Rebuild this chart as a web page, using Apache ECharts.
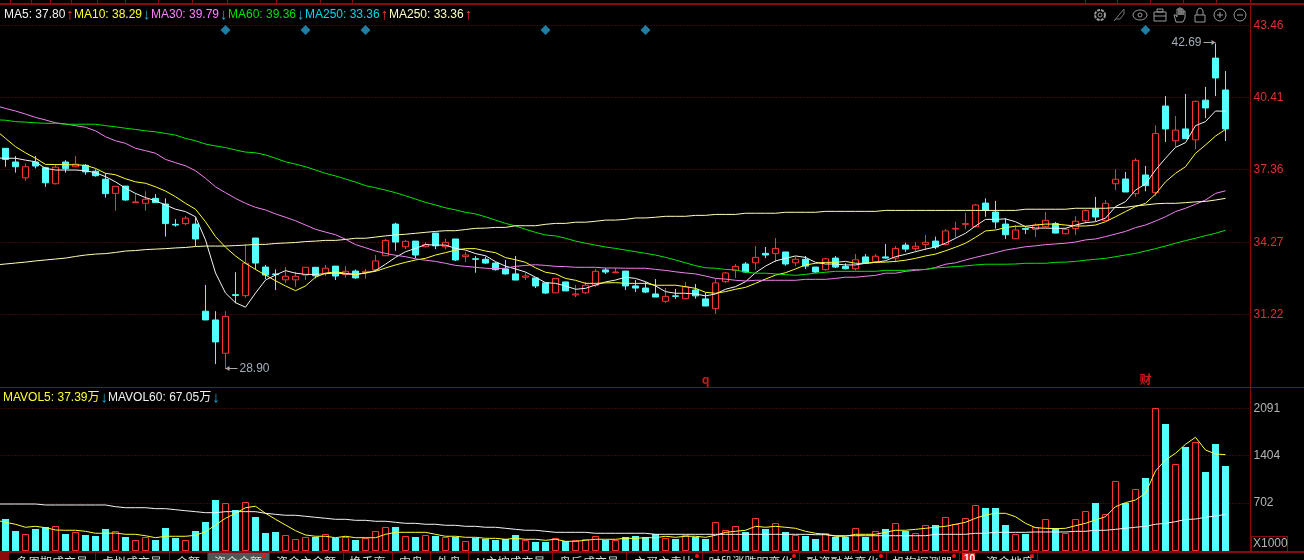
<!DOCTYPE html>
<html>
<head>
<meta charset="utf-8">
<style>
  html, body { margin: 0; padding: 0; background: #000; overflow: hidden; }
  #kline { width: 1304px; height: 560px; }
</style>
<script src="https://cdn.jsdelivr.net/npm/echarts@6/dist/echarts.min.js"></script>
</head>
<body>
<div id="kline"></div>
<script>
// open, close, low, high
var candles = [
  [38.25,37.78,37.47,38.26],[37.67,37.47,37.22,37.92],[37.00,37.47,36.88,37.61],[37.67,37.50,37.40,37.92],[37.43,36.79,36.62,37.47],
  [36.75,37.45,36.72,37.57],[37.67,37.39,37.22,37.75],[37.47,37.58,37.45,37.92],[37.53,37.25,37.13,37.58],[37.28,37.09,37.05,37.36],
  [36.94,36.33,36.16,37.19],[36.34,36.64,35.61,36.64],[36.65,36.06,36.03,36.65],[35.95,35.98,35.95,36.34],[35.92,36.09,35.61,36.43],
  [36.13,35.95,35.95,36.31],[35.89,35.06,34.51,36.13],[35.03,35.00,34.93,35.25],[35.06,35.29,35.00,35.38],[35.04,34.41,34.11,35.33],
  [31.35,30.98,30.98,32.46],[30.98,30.05,29.11,31.35],[29.57,31.13,28.90,31.35],[32.05,32.02,31.69,33.00],[32.01,33.38,31.92,34.18],
  [34.45,33.39,33.12,34.45],[33.22,32.88,32.71,33.31],[32.93,32.90,32.25,33.12],[32.68,32.83,32.55,33.22],[32.68,32.83,32.39,33.02],
  [32.88,33.21,32.67,33.21],[33.21,32.85,32.74,33.21],[32.96,33.17,32.84,33.31],[33.26,32.84,32.67,33.26],[32.90,33.04,32.77,33.26],
  [33.05,32.76,32.73,33.12],[32.98,33.04,32.73,33.14],[33.11,33.48,33.02,33.73],[33.70,34.35,33.69,34.41],[35.04,34.28,33.91,35.10],
  [34.08,34.31,33.98,34.37],[34.32,33.73,33.60,34.32],[34.08,34.17,34.06,34.28],[34.66,34.12,33.98,34.66],[34.08,34.27,33.97,34.41],
  [34.41,33.52,33.48,34.41],[33.66,33.73,33.43,33.87],[33.57,33.55,32.98,33.69],[33.55,33.39,33.36,33.66],[33.39,33.11,33.07,33.43],
  [33.14,32.93,32.90,33.52],[32.93,32.67,32.67,33.69],[32.79,32.84,32.67,32.98],[32.76,32.42,32.33,32.76],[32.55,32.12,32.08,32.55],
  [32.13,32.74,32.13,32.74],[32.59,32.21,32.21,32.59],[32.04,32.08,31.95,32.46],[32.13,32.45,32.08,32.59],[32.45,33.04,32.38,33.14],
  [33.10,33.01,32.93,33.18],[32.98,33.01,32.97,33.18],[33.05,32.42,32.25,33.05],[32.42,32.33,32.16,32.67],[32.33,32.16,32.12,32.59],
  [32.08,31.95,31.95,32.71],[31.77,31.98,31.70,32.33],[32.00,31.98,31.87,32.29],[31.88,32.38,31.85,32.59],[32.25,32.00,31.88,32.50],
  [31.87,31.57,31.57,32.12],[31.46,32.55,31.23,32.71],[32.60,32.97,32.55,33.01],[33.07,33.25,32.76,33.35],[33.35,33.01,32.98,33.43],
  [33.40,33.63,33.10,34.11],[33.80,33.73,33.60,34.07],[33.79,34.01,33.43,34.45],[33.86,33.35,33.28,33.86],[33.40,33.55,33.26,33.66],
  [33.55,33.26,33.14,33.69],[33.22,33.01,32.97,33.22],[33.11,33.57,33.07,33.60],[33.60,33.22,33.18,33.69],[33.25,33.15,33.12,33.38],
  [33.15,33.53,33.07,33.77],[33.65,33.39,33.35,33.77],[33.45,33.68,33.39,33.77],[33.65,33.60,33.57,34.20],[33.60,34.01,33.42,34.11],
  [34.15,33.98,33.86,34.25],[34.00,34.10,33.90,34.28],[34.18,34.27,33.94,34.58],[34.32,34.07,33.98,34.51],[34.18,34.75,34.14,34.83],
  [34.83,34.86,34.48,35.14],[35.03,35.06,34.82,35.52],[34.93,35.85,34.90,35.89],[35.93,35.62,35.35,36.13],[35.55,35.13,34.85,36.02],
  [35.04,34.59,34.41,35.29],[34.42,34.79,34.40,35.00],[34.85,34.82,34.62,34.90],[34.82,35.00,34.49,35.07],[34.93,35.20,34.90,35.55],
  [35.06,34.66,34.65,35.13],[34.63,34.82,34.61,34.89],[34.85,35.16,34.58,35.37],[35.18,35.62,35.07,35.67],[35.68,35.34,35.17,36.19],
  [35.20,35.92,35.17,36.06],[36.75,36.94,36.48,37.36],[36.95,36.40,36.40,37.25],[36.33,37.74,36.20,37.83],[37.12,36.67,36.43,37.50],
  [36.37,38.88,36.24,39.22],[40.04,39.07,38.52,40.46],[38.57,39.02,38.32,39.62],[39.07,38.66,38.66,40.55],[38.61,40.24,38.22,40.27],
  [40.29,39.96,39.53,40.85],[42.07,41.23,40.46,42.69],[40.72,39.07,38.56,41.52]
];

// averages: the first value of each belongs to the bar just off the left edge
var ma5 = [
  37.84,
  37.83,37.83,37.75,37.68,37.40,37.33,37.33,37.33,37.30,37.22,
  37.05,36.83,36.56,36.34,36.16,36.03,35.85,35.67,35.57,35.35,
  34.37,32.97,32.12,31.71,31.52,32.12,32.67,32.88,33.07,32.96,
  32.91,32.91,32.94,32.97,32.93,32.91,32.96,33.07,33.34,33.63,
  33.87,34.01,34.17,34.15,34.15,34.01,33.94,33.79,33.70,33.45,
  33.26,33.14,33.01,32.79,32.56,32.53,32.42,32.28,32.32,32.46,
  32.59,32.67,32.79,32.74,32.60,32.42,32.18,32.11,32.11,32.08,
  32.00,32.08,32.28,32.39,32.60,32.98,33.26,33.48,33.59,33.69,
  33.63,33.42,33.35,33.35,33.31,33.31,33.38,33.42,33.49,33.66,
  33.76,33.87,33.98,34.07,34.23,34.44,34.65,34.96,35.24,35.24,
  35.26,35.14,34.93,34.87,34.87,34.86,34.86,35.00,35.10,35.14,
  35.29,35.78,35.99,36.48,36.74,37.33,37.83,38.29,38.49,39.21,
  39.38,39.83,39.82
];
var ma10 = [
  39.03,
  38.67,38.32,38.06,37.83,37.57,37.56,37.56,37.55,37.53,37.40,
  37.19,37.13,36.96,36.83,36.77,36.62,36.44,36.20,35.92,35.67,
  35.14,34.51,34.06,33.69,33.38,33.12,32.88,32.64,32.42,32.22,
  32.42,32.79,32.96,33.02,32.96,32.90,32.98,33.04,33.18,33.31,
  33.42,33.52,33.59,33.73,33.83,33.94,34.00,34.00,33.90,33.83,
  33.62,33.53,33.42,33.19,33.00,32.93,32.74,32.66,32.53,32.53,
  32.55,32.56,32.53,32.53,32.53,32.45,32.45,32.45,32.39,32.32,
  32.15,32.11,32.18,32.28,32.36,32.53,32.71,32.88,32.98,33.14,
  33.31,33.38,33.42,33.42,33.46,33.38,33.38,33.42,33.43,33.46,
  33.51,33.59,33.69,33.77,33.91,34.06,34.23,34.48,34.75,34.79,
  34.89,34.95,34.95,35.00,35.04,35.04,35.00,34.96,34.96,35.00,
  35.14,35.35,35.57,35.78,35.92,36.31,36.83,37.19,37.47,38.04,
  38.39,38.77,39.05
];
var ma30 = [
  40.06,
  39.94,39.83,39.70,39.56,39.45,39.33,39.28,39.21,39.14,38.99,
  38.74,38.57,38.46,38.25,38.15,38.04,37.78,37.64,37.51,37.30,
  36.98,36.62,36.37,36.13,35.92,35.75,35.64,35.47,35.33,35.18,
  35.00,34.82,34.70,34.59,34.40,34.17,34.04,33.90,33.80,33.72,
  33.66,33.57,33.51,33.46,33.38,33.29,33.25,33.21,33.17,33.15,
  33.17,33.25,33.29,33.32,33.29,33.25,33.24,33.21,33.21,33.21,
  33.18,33.18,33.17,33.17,33.17,33.12,33.08,33.02,32.97,32.93,
  32.84,32.74,32.71,32.66,32.63,32.66,32.66,32.66,32.66,32.66,
  32.70,32.70,32.70,32.74,32.79,32.79,32.83,32.87,32.96,32.96,
  33.04,33.08,33.12,33.20,33.34,33.40,33.52,33.63,33.73,33.83,
  33.94,34.01,34.08,34.12,34.17,34.20,34.23,34.28,34.37,34.41,
  34.51,34.62,34.73,34.89,35.00,35.17,35.35,35.57,35.71,35.88,
  36.06,36.34,36.45
];
var ma60 = [
  39.46,
  39.44,39.38,39.36,39.33,39.31,39.31,39.27,39.27,39.27,39.27,
  39.21,39.16,39.10,39.05,38.99,38.95,38.88,38.81,38.67,38.57,
  38.43,38.35,38.28,38.18,38.09,38.06,37.97,37.83,37.68,37.58,
  37.47,37.33,37.19,37.08,36.95,36.82,36.67,36.58,36.48,36.37,
  36.24,36.10,35.96,35.85,35.73,35.64,35.54,35.47,35.35,35.21,
  35.07,34.96,34.82,34.69,34.58,34.54,34.44,34.32,34.23,34.15,
  34.07,34.01,33.94,33.87,33.80,33.73,33.63,33.52,33.40,33.28,
  33.19,33.17,33.12,33.10,33.01,32.96,32.96,32.93,32.90,32.87,
  32.91,32.96,33.00,33.04,33.04,33.04,33.04,33.04,33.08,33.08,
  33.08,33.12,33.12,33.18,33.21,33.24,33.27,33.31,33.34,33.34,
  33.34,33.35,33.38,33.38,33.38,33.42,33.43,33.46,33.51,33.55,
  33.59,33.66,33.73,33.80,33.90,34.00,34.11,34.23,34.34,34.44,
  34.55,34.65,34.78
];
var ma250 = [
  33.31,
  33.35,33.39,33.43,33.48,33.52,33.56,33.60,33.67,33.73,33.77,
  33.79,33.84,33.90,33.92,33.96,33.98,34.00,34.03,34.05,34.09,
  34.11,34.11,34.11,34.13,34.15,34.18,34.18,34.22,34.24,34.26,
  34.30,34.32,34.35,34.35,34.39,34.44,34.44,34.49,34.54,34.58,
  34.61,34.65,34.69,34.73,34.76,34.76,34.81,34.86,34.87,34.90,
  34.90,34.97,34.97,34.97,35.03,35.07,35.07,35.12,35.12,35.16,
  35.21,35.21,35.24,35.30,35.30,35.33,35.37,35.37,35.37,35.41,
  35.41,35.45,35.45,35.45,35.50,35.50,35.50,35.50,35.54,35.54,
  35.54,35.54,35.58,35.58,35.58,35.58,35.58,35.58,35.62,35.62,
  35.62,35.62,35.62,35.62,35.62,35.62,35.62,35.62,35.62,35.62,
  35.62,35.62,35.67,35.67,35.67,35.67,35.67,35.71,35.71,35.71,
  35.71,35.74,35.75,35.81,35.85,35.90,35.92,35.92,35.95,35.98,
  36.00,36.06,36.13
];

var volumes = [
  469,293,245,323,348,362,249,274,235,220,
  323,289,205,157,201,161,337,191,157,293,
  425,748,700,597,714,499,264,279,230,172,
  201,210,245,195,201,161,195,289,348,352,
  216,205,230,220,205,205,142,195,176,161,
  172,235,157,132,132,186,142,157,172,216,
  166,161,201,220,205,245,186,176,235,210,
  176,421,304,362,279,480,323,406,279,230,
  220,176,260,205,205,333,205,289,323,406,
  293,260,377,381,494,392,480,670,631,631,
  381,245,249,356,465,333,260,465,582,704,
  538,1023,709,905,1071,2091,1863,1272,1526,1599,
  1159,1570,1247
];
var mavol5 = [
  455,
  421,392,348,362,342,308,304,304,289,260,
  260,264,245,245,224,195,216,216,216,230,
  283,381,480,553,635,656,553,465,381,298,
  235,216,216,195,216,195,195,195,245,274,
  274,274,274,245,216,216,201,201,186,186,
  172,186,172,172,157,172,142,142,157,172,
  172,172,186,186,195,195,216,201,216,216,
  201,230,274,289,304,362,348,362,348,333,
  289,260,245,216,216,245,245,245,274,304,
  304,318,333,348,362,392,421,480,528,553,
  553,503,406,342,333,327,333,371,406,455,
  503,650,709,748,846,1174,1335,1433,1565,1668,
  1482,1423,1413
];
var mavol60 = [
  689,
  689,689,689,689,675,675,675,675,675,675,
  675,650,635,635,635,621,621,606,591,577,
  562,562,577,577,577,577,553,538,524,524,
  509,494,480,465,465,450,450,436,436,421,
  406,406,392,392,377,377,362,362,348,348,
  333,318,304,304,289,274,274,274,274,260,
  260,260,260,260,260,245,245,245,245,245,
  245,245,245,245,245,245,245,245,245,245,
  245,239,239,224,224,224,224,224,224,224,
  224,224,224,245,245,245,245,260,260,274,
  274,274,274,279,279,279,279,289,289,304,
  304,318,333,348,362,392,406,430,462,469,
  494,513,538
];

var priceTicks = [31.22, 34.27, 37.36, 40.41, 43.46];
var volumeTicks = [702, 1404, 2091];

// candle index of the blue diamonds along the top
var markerIndex = [22, 30, 36, 54, 64, 114];
var markerPrice = 43.26;
// [index, price, text] small red flags under the candles
var flags = [[70, 28.44, 'q'], [114, 28.44, '财']];
// [index, price, side] high / low callouts
var callouts = [[121, 42.69, -1], [22, 28.90, 1]];

var maLegend = [
  { x: 4, text: 'MA5: 37.80', arrow: '↑', color: '#f2f2f2' },
  { x: 74, text: 'MA10: 38.29', arrow: '↓', color: '#ffff33' },
  { x: 151, text: 'MA30: 39.79', arrow: '↓', color: '#ff80ff' },
  { x: 228, text: 'MA60: 39.36', arrow: '↓', color: '#00e000' },
  { x: 305, text: 'MA250: 33.36', arrow: '↑', color: '#00d8e8' },
  { x: 389, text: 'MA250: 33.36', arrow: '↑', color: '#ffffc0' }
];
var volLegend = [
  { x: 3, text: 'MAVOL5: 37.39万', arrow: '↓', color: '#ffff33' },
  { x: 108, text: 'MAVOL60: 67.05万', arrow: '↓', color: '#f2f2f2' }
];

// [left, right, text, has red dot]
var tabs = [
  [9, 95, '多周期成交量', 0], [95, 169, '虚拟成交量', 0], [169, 207, '金额', 0], [207, 269, '资金金额', 1],
  [269, 343, '资金主金额', 0], [343, 392, '换手率', 0], [392, 430, '内盘', 0], [430, 468, '外盘', 0],
  [468, 552, 'AI主控成交量', 0], [552, 626, '盘后成交量', 0], [626, 702, '主买主卖比', 1], [702, 799, '时段涨跌明变化', 1],
  [799, 886, '融资融券变化', 1], [886, 959, '机构探测器', 1], [959, 1037, '资金地度', 1]
];
var topDividers = [10, 31, 50, 71, 97, 125, 158, 192, 227, 276, 320, 352, 1085, 1117, 1150, 1183, 1216, 1250];

var RED = '#ff3333';
var CYAN = '#54ffff';
var FRAME = '#8c0a0a';
var GRID = '#701212';
var FONT = '"Liberation Sans", Arial, sans-serif';
var CJK = '"Liberation Sans", "Noto Sans CJK SC", sans-serif';

// one extra slot on the left, off screen, so the averages run in from the edge
var categories = [];
for (var n = 0; n < 126; n++) categories.push(String(n));
var candleRows = [['-', '-', '-', '-']].concat(candles);

var volumeRows = volumes.map(function (v, i) {
  return [i + 1, v, candles[i][1] >= candles[i][0] ? 1 : 0];
});

function maLine(name, data, color, xi, yi) {
  return {
    name: name, type: 'line', data: data, xAxisIndex: xi, yAxisIndex: yi,
    showSymbol: false, silent: true, z: 4,
    lineStyle: { color: color, width: 1 }
  };
}

function legendTexts(items, y) {
  return items.map(function (it) {
    return {
      type: 'text', x: it.x, y: y, z: 20,
      style: {
        text: '{t|' + it.text + '}{a|' + it.arrow + '}',
        rich: {
          t: { fill: it.color, font: '12px ' + CJK, lineHeight: 12 },
          a: { fill: it.arrow === '↑' ? RED : '#2aa8e0', font: '15px ' + FONT, lineHeight: 12, padding: [0, 0, 0, 1] }
        }
      }
    };
  });
}

function stroke(color, w) {
  return { stroke: color, fill: 'none', lineWidth: w || 1 };
}

// toolbar up in the right corner
function toolbarIcons() {
  var c = '#9a9a9a';
  return [
    { type: 'circle', shape: { cx: 1100, cy: 15, r: 5 }, style: { stroke: c, fill: 'none', lineWidth: 2, lineDash: [3, 1] } },
    { type: 'circle', shape: { cx: 1100, cy: 15, r: 2 }, style: stroke(c) },
    { type: 'polygon', shape: { points: [[1114, 21], [1124, 9], [1124, 14], [1120, 19], [1116, 19]] }, style: stroke('#777') },
    { type: 'ellipse', shape: { cx: 1140, cy: 15, rx: 7, ry: 5 }, style: stroke(c) },
    { type: 'circle', shape: { cx: 1140, cy: 15, r: 2 }, style: stroke(c) },
    { type: 'rect', shape: { x: 1154, y: 12, width: 12, height: 9 }, style: stroke(c) },
    { type: 'rect', shape: { x: 1157, y: 9, width: 6, height: 3 }, style: stroke(c) },
    { type: 'line', shape: { x1: 1154, y1: 16, x2: 1166, y2: 16 }, style: stroke(c) },
    { type: 'polygon', shape: { points: [[1176, 22], [1174, 15], [1176, 15], [1177, 17], [1177, 9], [1179, 9], [1179, 15], [1179, 8], [1181, 8], [1181, 15], [1181, 9], [1183, 9], [1183, 15], [1183, 11], [1185, 11], [1185, 18], [1183, 22]] }, style: stroke(c) },
    { type: 'rect', shape: { x: 1195, y: 15, width: 10, height: 7 }, style: stroke(c) },
    { type: 'polyline', shape: { points: [[1197, 15], [1197, 11], [1198, 9], [1200, 8], [1202, 9], [1203, 11], [1203, 15]] }, style: stroke(c) },
    { type: 'circle', shape: { cx: 1220, cy: 15, r: 6 }, style: stroke(c) },
    { type: 'line', shape: { x1: 1217, y1: 15, x2: 1223, y2: 15 }, style: stroke(c) },
    { type: 'line', shape: { x1: 1220, y1: 12, x2: 1220, y2: 18 }, style: stroke(c) },
    { type: 'circle', shape: { cx: 1240, cy: 15, r: 6 }, style: stroke(c) },
    { type: 'line', shape: { x1: 1237, y1: 15, x2: 1243, y2: 15 }, style: stroke(c) }
  ].map(function (el) { el.z = 20; el.silent = true; return el; });
}

// top strip and the cut off tab row at the bottom
function chrome() {
  var out = [
    { type: 'rect', shape: { x: 0, y: 3, width: 1304, height: 2 }, style: { fill: FRAME } },
    { type: 'rect', shape: { x: 0, y: 387, width: 1304, height: 1 }, style: { fill: FRAME } },
    { type: 'rect', shape: { x: 0, y: 551, width: 1304, height: 2 }, style: { fill: FRAME } },
    { type: 'rect', shape: { x: 0, y: 553, width: 9, height: 7 }, style: { fill: FRAME } },
    { type: 'rect', shape: { x: 207, y: 553, width: 62, height: 7 }, style: { fill: '#555' } },
    { type: 'rect', shape: { x: 1251.5, y: 536.5, width: 36, height: 15 }, style: { fill: '#000', stroke: FRAME } },
    { type: 'text', x: 1253, y: 538, style: { text: 'X1000', fill: '#b4b4b4', font: '12px ' + FONT } },
    { type: 'rect', shape: { x: 962, y: 553, width: 13, height: 7 }, style: { fill: '#e82020' } },
    { type: 'text', x: 964, y: 554, style: { text: '10', fill: '#fff', font: 'bold 10px ' + FONT } }
  ];
  topDividers.forEach(function (x) {
    out.push({ type: 'line', shape: { x1: x + 0.5, y1: 0, x2: x + 0.5, y2: 3 }, style: { stroke: FRAME } });
  });
  tabs.forEach(function (t) {
    out.push({ type: 'line', shape: { x1: t[1] + 0.5, y1: 553, x2: t[1] + 0.5, y2: 560 }, style: { stroke: FRAME } });
    var tw = t[2] === '资金地度' ? 986 : (t[0] + t[1]) / 2;
    out.push({
      type: 'text', x: tw, y: 556,
      style: { text: t[2], fill: '#dcdcdc', font: '12px "Noto Sans CJK SC", sans-serif', textAlign: t[2] === '资金地度' ? 'left' : 'center' }
    });
    if (t[3]) {
      out.push({ type: 'circle', shape: { cx: t[1] - 5, cy: 556, r: 2 }, style: { fill: '#ff1010' } });
    }
  });
  return out.map(function (el) { el.z = 15; el.silent = true; return el; });
}

var dom = document.getElementById('kline');
var myChart = echarts.init(dom, null, { renderer: 'canvas', useDirtyRect: false });

var option = {
  backgroundColor: '#000',
  animation: false,
  grid: [
    { left: -9.5, width: 1260, top: 5, height: 382, outerBoundsMode: 'none' },
    { left: -9.5, width: 1260, top: 388, height: 163, outerBoundsMode: 'none' }
  ],
  xAxis: [
    {
      type: 'category', gridIndex: 0, data: categories, boundaryGap: true,
      axisLine: { show: false }, axisTick: { show: false }, axisLabel: { show: false }
    },
    {
      type: 'category', gridIndex: 1, data: categories, boundaryGap: true,
      axisLine: { show: false }, axisTick: { show: false }, axisLabel: { show: false }
    }
  ],
  yAxis: [
    {
      type: 'value', gridIndex: 0, position: 'right', min: 28.14, max: 44.32, scale: true,
      axisLine: { show: true, lineStyle: { color: FRAME } },
      axisTick: { show: false, customValues: priceTicks },
      axisLabel: { customValues: priceTicks, color: '#e03030', fontFamily: FONT, fontSize: 12, margin: 3, formatter: function (v) { return v.toFixed(2); } },
      splitLine: { show: true, lineStyle: { color: GRID, type: [1, 2] } }
    },
    {
      type: 'value', gridIndex: 1, position: 'right', min: 0, max: 2391,
      axisLine: { show: true, lineStyle: { color: FRAME } },
      axisTick: { show: false, customValues: volumeTicks },
      axisLabel: { customValues: volumeTicks, color: '#b4b4b4', fontFamily: FONT, fontSize: 12, margin: 3, formatter: function (v) { return String(v); } },
      splitLine: { show: true, lineStyle: { color: GRID, type: [1, 2] } }
    }
  ],
  series: [
    {
      name: 'K', type: 'candlestick', data: candleRows, xAxisIndex: 0, yAxisIndex: 0,
      barWidth: 6, z: 3, silent: true,
      itemStyle: { color: '#000', color0: CYAN, borderColor: RED, borderColor0: CYAN, borderWidth: 1 }
    },
    maLine('MA5', ma5, '#f4f4f4', 0, 0),
    maLine('MA10', ma10, '#ffff33', 0, 0),
    maLine('MA30', ma30, '#f080f0', 0, 0),
    maLine('MA60', ma60, '#00e600', 0, 0),
    maLine('MA250', ma250, '#ffffb8', 0, 0),
    {
      name: 'markers', type: 'scatter', symbol: 'diamond', symbolSize: 10, xAxisIndex: 0, yAxisIndex: 0, silent: true, z: 5,
      data: markerIndex.map(function (i) { return [i + 1, markerPrice]; }),
      itemStyle: { color: '#2a9ccc' }
    },
    {
      name: 'flags', type: 'scatter', symbolSize: 0, xAxisIndex: 0, yAxisIndex: 0, silent: true, z: 5,
      data: flags.map(function (f) { return [f[0] + 1, f[1], f[2]]; }),
      label: {
        show: true, position: 'inside', color: '#ff2020', fontWeight: 'bold', fontSize: 12,
        fontFamily: '"Noto Sans CJK SC", sans-serif',
        formatter: function (p) { return p.value[2]; }
      }
    },
    {
      name: 'callouts', type: 'custom', xAxisIndex: 0, yAxisIndex: 0, silent: true, z: 6,
      data: callouts.map(function (c) { return [c[0] + 1, c[1], c[2]]; }),
      renderItem: function (params, api) {
        var p = api.coord([api.value(0), api.value(1)]);
        var side = api.value(2);
        var x = p[0], y = Math.round(p[1]) - 0.5;
        return {
          type: 'group',
          children: [
            { type: 'line', shape: { x1: x, y1: y, x2: x + side * 12, y2: y }, style: { stroke: '#a8a8a8', lineWidth: 1 } },
            { type: 'polygon', shape: { points: [[x, y], [x + side * 4, y - 2.5], [x + side * 4, y + 2.5]] }, style: { fill: '#a8a8a8' } },
            {
              type: 'text', x: x + side * 14, y: y,
              style: {
                text: api.value(1).toFixed(2), fill: '#a3aeba', font: '12px ' + FONT,
                textAlign: side > 0 ? 'left' : 'right', textVerticalAlign: 'middle'
              }
            }
          ]
        };
      }
    },
    {
      // drawn as custom so the hollow boxes stay on whole pixels
      name: 'VOL', type: 'custom', data: volumeRows, xAxisIndex: 1, yAxisIndex: 1, z: 3, silent: true,
      encode: { x: 0, y: 1 },
      renderItem: function (params, api) {
        var top = api.coord([api.value(0), api.value(1)]);
        var base = Math.round(api.coord([api.value(0), 0])[1]);
        var x = Math.round(top[0] - 3.5), y = Math.round(top[1]);
        if (api.value(2)) {
          return {
            type: 'rect',
            shape: { x: x + 0.5, y: y + 0.5, width: 6, height: base - y - 1 },
            style: { fill: '#000', stroke: RED, lineWidth: 1 }
          };
        }
        return { type: 'rect', shape: { x: x, y: y, width: 7, height: base - y }, style: { fill: CYAN } };
      }
    },
    maLine('MAVOL5', mavol5, '#ffff33', 1, 1),
    maLine('MAVOL60', mavol60, '#f4f4f4', 1, 1)
  ],
  graphic: {
    elements: chrome()
      .concat(toolbarIcons())
      .concat(legendTexts(maLegend, 9))
      .concat(legendTexts(volLegend, 392))
  }
};

myChart.setOption(option);
window.addEventListener('resize', myChart.resize);
</script>
</body>
</html>
